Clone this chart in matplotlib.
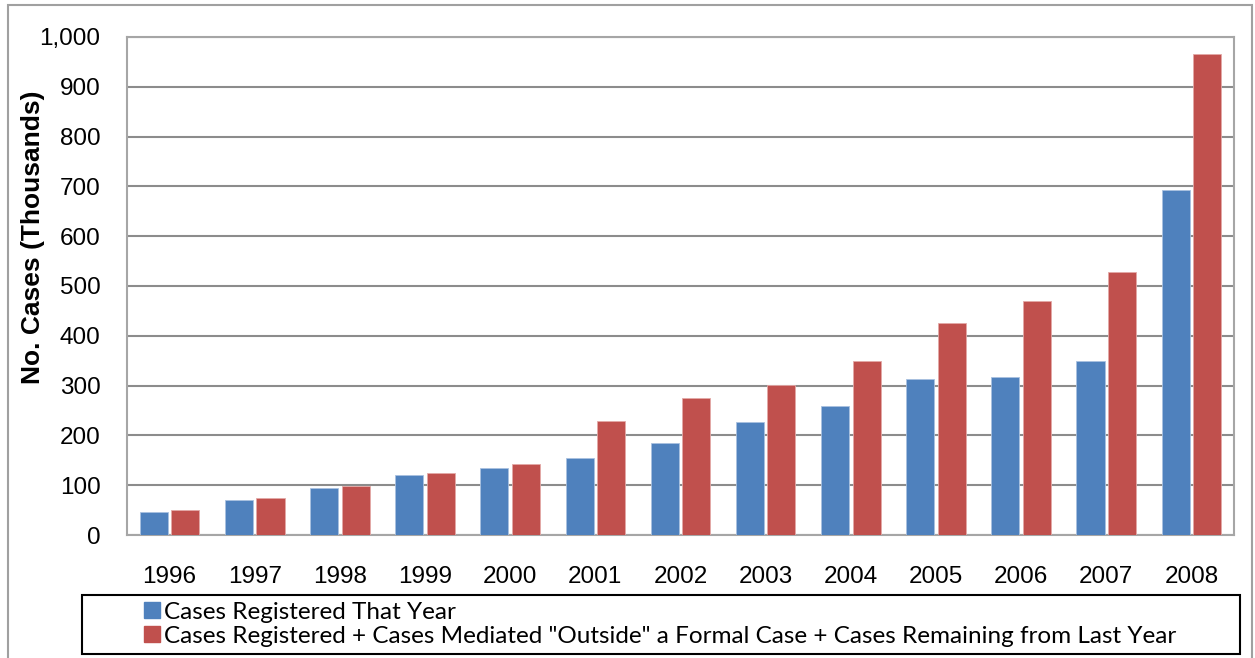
import numpy as np
import matplotlib.pyplot as plt
from matplotlib.patches import Rectangle, Patch

years = ["1996", "1997", "1998", "1999", "2000", "2001", "2002",
         "2003", "2004", "2005", "2006", "2007", "2008"]
registered = [47, 71, 94, 120, 135, 155, 184, 226, 260, 314, 317, 350, 693]
total = [51, 74, 98, 124, 142, 228, 275, 301, 349, 425, 469, 528, 965]
labels = ["Cases Registered That Year",
          'Cases Registered + Cases Mediated "Outside" a Formal Case + Cases Remaining from Last Year']

BLUE = "#4F81BD"
RED = "#C0504D"

plt.rcParams['font.family'] = ['Liberation Sans', 'DejaVu Sans']

fig = plt.figure(figsize=(12.55, 6.58), dpi=100)
ax = fig.add_axes([127 / 1255, 1 - 535 / 658, (1234 - 127) / 1255, (535 - 37) / 658])

x = np.arange(len(years))
w = 0.33
ax.bar(x - w / 2 - 0.02, registered, w, color=BLUE, edgecolor="#A9C1E0", linewidth=0.6, zorder=3)
ax.bar(x + w / 2 + 0.02, total, w, color=RED, edgecolor="#E3A9A7", linewidth=0.6, zorder=3)

ax.set_xlim(-0.5, len(years) - 0.5)
ax.set_ylim(0, 1000)
ax.set_yticks(np.arange(0, 1001, 100))
ax.set_yticklabels([f"{v:,}" for v in range(0, 1001, 100)], fontsize=17.5)
ax.set_xticks(x)
ax.set_xticklabels(years, fontsize=17.5)
ax.tick_params(axis="both", length=0)
ax.tick_params(axis="x", pad=22)
ax.tick_params(axis="y", pad=19)
ax.yaxis.grid(True, color="#8C8C8C", linewidth=1.5, zorder=0)
ax.set_axisbelow(True)
for s in ax.spines.values():
    s.set_color("#A6A6A6")
    s.set_linewidth(1.5)
ax.set_ylabel("No. Cases (Thousands)", fontsize=19, fontweight="bold",
              va="center", ha="center")
ax.yaxis.set_label_coords((33.5 - 127) / 1107, (535 - 237) / 498)

# legend box
fig.patches.append(Rectangle((82 / 1255, 1 - 654 / 658), (1240 - 82) / 1255, 59 / 658,
                             transform=fig.transFigure, fill=False, edgecolor="black",
                             linewidth=1.5))
handles = [Patch(color=BLUE), Patch(color=RED)]
fig.legend(handles, labels, loc="upper left", bbox_to_anchor=(134 / 1255, 1 - 592 / 658),
           frameon=False, prop={"family": "Lato", "size": 17.5}, handlelength=0.65,
           handleheight=0.65, handletextpad=0.2, labelspacing=0.12, borderaxespad=0)

# outer border
fig.patches.append(Rectangle((8 / 1255, -0.01), (1252 - 8) / 1255, 1 - 5 / 658 + 0.01,
                             transform=fig.transFigure, fill=False, edgecolor="#A0A0A0",
                             linewidth=1.5))

fig.savefig("out.png", dpi=100)
